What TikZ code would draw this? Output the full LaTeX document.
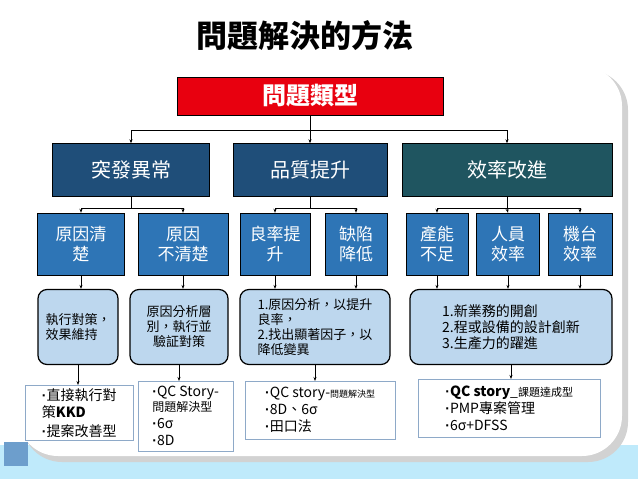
\documentclass[tikz,border=0pt]{standalone}
\usepackage{fontspec}
\setmainfont{Noto Sans CJK TC}
\newfontfamily\latinf{Liberation Sans}
\usetikzlibrary{arrows.meta}
\definecolor{topred}{HTML}{E8000F}
\definecolor{catblue}{HTML}{1F4E79}
\definecolor{catteal}{HTML}{1F5560}
\definecolor{subblue}{HTML}{2E75B6}
\definecolor{notefill}{HTML}{BDD7EE}
\definecolor{listedge}{HTML}{8EA9C8}
\newcommand{\bul}{{\latinf\textbf{·}}}
\tikzset{topbox/.style={draw=black,fill=topred,text=white,font=\bfseries\fontsize{24}{26}\selectfont,inner sep=0pt}}
\tikzset{catbox/.style={draw=black,fill=catblue,text=white,font=\fontsize{20}{22}\selectfont,inner sep=0pt}}
\tikzset{subbox/.style={draw=black,fill=subblue,text=white,font=\fontsize{17}{20}\selectfont,align=center,inner sep=0pt}}
\tikzset{notebox/.style={draw=black,very thick,rounded corners=9pt,fill=notefill,font=\fontsize{13}{15}\selectfont,align=left,inner sep=0pt}}
\tikzset{listbox/.style={draw=listedge,fill=white,font=\fontsize{14}{17}\selectfont,align=left,anchor=north west,inner sep=2pt}}
\tikzset{link/.style={-{Stealth[length=4pt]},thick}}
\begin{document}
\begin{tikzpicture}[x=1pt,y=-1pt]
            % background and frame
            \useasboundingbox (0,0) rectangle (638,479);
            \fill[white] (0,0) rectangle (638,440);
            \fill[cyan!25] (0,445) rectangle (638,479);
            \fill[gray!35,rounded corners=40pt] (22,70) rectangle (628,462);
            \fill[white,rounded corners=40pt] (18,66) rectangle (622,456);
            \fill[subblue!70] (4,442) rectangle (28,466);
            \node[font=\bfseries\fontsize{31}{33}\selectfont] (title) at (305,36) {問題解決的方法};
            % top and categories
            \node[topbox,minimum width=266pt,minimum height=38pt] (top) at (310,96) {問題類型};
            \node[catbox,minimum width=157pt,minimum height=53pt] (cat1) at (131,170) {突發異常};
            \node[catbox,minimum width=154pt,minimum height=53pt] (cat2) at (310,170) {品質提升};
            \node[catbox,fill=catteal,minimum width=210pt,minimum height=53pt] (cat3) at (507,170) {效率改進};
            % sub items
            \node[subbox,minimum width=87pt,minimum height=62pt] (s1) at (81,244) {原因清\\楚};
            \node[subbox,minimum width=90pt,minimum height=62pt] (s2) at (183,244) {原因\\不清楚};
            \node[subbox,minimum width=70pt,minimum height=62pt] (s3) at (275,244) {良率提\\升};
            \node[subbox,minimum width=62pt,minimum height=62pt] (s4) at (356,244) {缺陷\\降低};
            \node[subbox,minimum width=62pt,minimum height=62pt] (s5) at (437,244) {產能\\不足};
            \node[subbox,minimum width=63pt,minimum height=62pt] (s6) at (508,244) {人員\\效率};
            \node[subbox,minimum width=64pt,minimum height=62pt] (s7) at (580,244) {機台\\效率};
            % notes
            \node[notebox,minimum width=80pt,minimum height=75pt] (n1) at (78,327) {執行對策，\\效果維持};
            \node[notebox,minimum width=98pt,minimum height=75pt,align=center] (n2) at (179,327) {原因分析層\\別，執行並\\驗証對策};
            \node[notebox,minimum width=150pt,minimum height=75pt] (n3) at (315,327) {1.原因分析，以提升\\良率，\\2.找出顯著因子，以\\降低變異};
            \node[notebox,minimum width=202pt,minimum height=75pt,font=\fontsize{14}{16}\selectfont] (n4) at (511,327) {1.新業務的開創\\2.程或設備的設計創新\\3.生產力的躍進};
            % lists
            \node[listbox,minimum width=108pt,minimum height=55pt] (l1) at (25,385) {\bul 直接執行對\\策\textbf{KKD}\\[2pt]\bul 提案改善型};
            \node[listbox,minimum width=95pt,minimum height=70pt,font=\fontsize{14}{15}\selectfont] (l2) at (138,381) {\bul QC Story-\\{\fontsize{12}{13}\selectfont 問題解決型}\\[2pt]\bul 6σ\\[2pt]\bul 8D};
            \node[listbox,minimum width=150pt,minimum height=58pt] (l3) at (245,381) {\bul QC story-{\fontsize{9}{9}\selectfont 問題解決型}\\\bul 8D、6σ\\\bul 田口法};
            \node[listbox,minimum width=182pt,minimum height=58pt] (l4) at (418,379) {\bul\textbf{QC story}\_{\fontsize{11}{11}\selectfont 課題達成型}\\\bul PMP專案管理\\\bul 6σ+DFSS};
            % connectors
            \coordinate (j0) at (310,130);
            \draw[thick] (top.south) -- (j0);
            \draw[link] (j0) -| (cat1.north);
            \draw[link] (j0) -| (cat3.north);
            \draw[link] (j0) -- (cat2.north);
            \draw[thick] (cat1.south) -- ++(0,12) coordinate (j1);
            \draw[link] (j1) -| (s1.north);
            \draw[link] (j1) -| (s2.north);
            \draw[thick] (cat2.south) -- ++(0,12) coordinate (j2);
            \draw[link] (j2) -| (s3.north);
            \draw[link] (j2) -| (s4.north);
            \draw[thick] (cat3.south) -- ++(0,12) coordinate (j3);
            \draw[link] (j3) -| (s5.north);
            \draw[link] (j3) -| (s7.north);
            \draw[link] (j3) -- (s6.north);
            \draw[link] (s1.south) -- (s1.south |- n1.north);
            \draw[link] (s2.south) -- (s2.south |- n2.north);
            \draw[link] (s3.south) -- (s3.south |- n3.north);
            \draw[link] (s4.south) -- (s4.south |- n3.north);
            \draw[link] (s5.south) -- (s5.south |- n4.north);
            \draw[link] (s6.south) -- (s6.south |- n4.north);
            \draw[link] (s7.south) -- (s7.south |- n4.north);
            \draw[link] (n1.south) -- (n1.south |- l1.north);
            \draw[link] (n2.south) -- (n2.south |- l2.north);
            \draw[link] (n3.south) -- (n3.south |- l3.north);
            \draw[link] (n4.south) -- (n4.south |- l4.north);
\end{tikzpicture}
\end{document}
